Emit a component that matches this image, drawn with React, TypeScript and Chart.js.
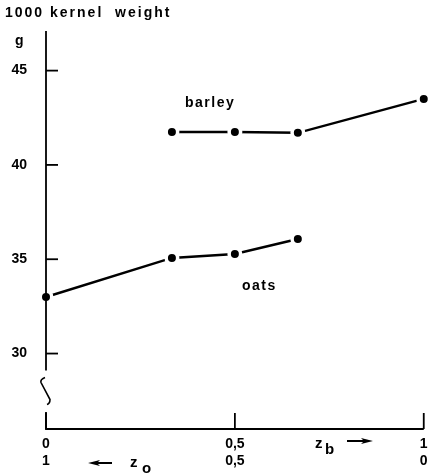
import React, { useEffect, useRef } from 'react';
import { Chart, registerables } from 'chart.js';

Chart.register(...registerables);

// z_b share (x), barley and oats 1000 kernel weight (g)
const barleyX = [1 / 3, 0.5, 2 / 3, 1];
const barleyY = [41.75, 41.75, 41.7, 43.5];
const oatsX = [0, 1 / 3, 0.5, 2 / 3];
const oatsY = [33.0, 35.07, 35.28, 36.07];
const yTicks = [30, 35, 40, 45];
const xTicks = [0, 0.5, 1];
const xTopLabels = ['0', '0,5', '1'];
const xBottomLabels = ['1', '0,5', '0'];

const FONT = 'Liberation Sans';

function drawArrow(ctx: CanvasRenderingContext2D, xa: number, xb: number, y: number, dir: number) {
  ctx.save();
  ctx.lineWidth = 2;
  ctx.beginPath();
  ctx.moveTo(xa, y);
  ctx.lineTo(xb - dir * 6, y);
  ctx.stroke();
  ctx.beginPath();
  ctx.moveTo(xb, y);
  ctx.lineTo(xb - dir * 12, y - 3);
  ctx.lineTo(xb - dir * 9, y);
  ctx.lineTo(xb - dir * 12, y + 3);
  ctx.closePath();
  ctx.fill();
  ctx.restore();
}

const axesPlugin = {
  id: 'axesPlugin',
  afterDraw(chart: any) {
    const { ctx, chartArea } = chart;
    const xs = chart.scales.x;
    const ys = chart.scales.y;
    const x0 = xs.getPixelForValue(0);
    const x1 = xs.getPixelForValue(1);
    const bottom = chartArea.bottom;
    ctx.save();
    ctx.strokeStyle = '#000';
    ctx.fillStyle = '#000';
    ctx.lineWidth = 1.8;
    ctx.lineCap = 'butt';
    // y axis with break
    const breakTop = ys.getPixelForValue(29.1);
    const breakBottom = ys.getPixelForValue(26.9);
    ctx.beginPath();
    ctx.moveTo(x0, chartArea.top);
    ctx.lineTo(x0, breakTop);
    ctx.stroke();
    ctx.beginPath();
    ctx.lineWidth = 1.6;
    ctx.moveTo(x0 - 1, breakTop + 7);
    ctx.quadraticCurveTo(x0 - 6, breakTop + 9, x0 - 5, breakTop + 12);
    ctx.lineTo(x0 + 4, breakTop + 29);
    ctx.quadraticCurveTo(x0 + 4, breakTop + 33, x0 + 1, breakTop + 34);
    ctx.stroke();
    ctx.lineWidth = 1.8;
    ctx.beginPath();
    ctx.moveTo(x0, breakBottom);
    ctx.lineTo(x0, bottom);
    ctx.lineTo(x1, bottom);
    ctx.stroke();
    // y ticks (inward)
    yTicks.forEach((v) => {
      const y = ys.getPixelForValue(v);
      ctx.beginPath();
      ctx.moveTo(x0, y);
      ctx.lineTo(x0 + 12, y);
      ctx.stroke();
    });
    // x ticks (upward)
    xTicks.forEach((v) => {
      const x = xs.getPixelForValue(v);
      ctx.beginPath();
      ctx.moveTo(x, bottom);
      ctx.lineTo(x, bottom - 16);
      ctx.stroke();
    });

    // texts
    ctx.textBaseline = 'alphabetic';
    ctx.textAlign = 'left';
    ctx.font = `bold 14px "${FONT}"`;
    (ctx as any).letterSpacing = '2px';
    ctx.fillText('1000 kernel  weight', 5, 17);
    (ctx as any).letterSpacing = '0px';
    ctx.fillText('g', 15, 45);
    (ctx as any).letterSpacing = '1.5px';
    ctx.fillText('barley', 185, 107);
    ctx.fillText('oats', 242, 290);
    (ctx as any).letterSpacing = '0px';

    // z_b ->
    ctx.font = `bold 15px "${FONT}"`;
    ctx.fillText('z', 315, 448);
    ctx.fillText('b', 325, 454);
    drawArrow(ctx, 347, 373, 441, 1);
    // <- z_o
    ctx.fillText('z', 130, 467);
    ctx.fillText('o', 142, 473);
    drawArrow(ctx, 112, 88, 463, -1);
    ctx.restore();
  },
};

export default function App() {
  const ref = useRef<HTMLCanvasElement | null>(null);
  useEffect(() => {
    if (!ref.current) return;
    Chart.defaults.color = '#000';
    const mk = (xv: number[], yv: number[]) => xv.map((x, i) => ({ x, y: yv[i] }));
    const dsStyle = {
      borderColor: '#000',
      borderWidth: 2.5,
      pointRadius: 5.75,
      pointBorderWidth: 3.5,
      pointBackgroundColor: '#000',
      pointBorderColor: '#fff',
      showLine: true,
      clip: false as any,
      tension: 0,
    };
    const chart = new Chart(ref.current, {
      type: 'line',
      data: {
        datasets: [
          { label: 'barley', data: mk(barleyX, barleyY), ...dsStyle },
          { label: 'oats', data: mk(oatsX, oatsY), ...dsStyle },
        ],
      },
      options: {
        responsive: false,
        animation: false,
        devicePixelRatio: 1,
        layout: { padding: { top: 31, right: 8, left: 0, bottom: 0 } },
        plugins: { legend: { display: false }, tooltip: { enabled: false }, title: { display: false } },
        scales: {
          x: {
            type: 'linear',
            min: 0,
            max: 1,
            grid: { display: false, drawTicks: false },
            border: { display: false },
            afterBuildTicks: (s: any) => {
              s.ticks = xTicks.map((v) => ({ value: v }));
            },
            afterFit: (s: any) => {
              s.height = 45;
              s.paddingRight = 0;
              s.paddingLeft = 0;
            },
            ticks: {
              padding: 6,
              maxRotation: 0,
              autoSkip: false,
              font: { family: FONT, weight: 'bold', size: 14, lineHeight: 1.25 },
              color: '#000',
              callback: (_v: any, i: number) => [xTopLabels[i], xBottomLabels[i]],
            },
          },
          y: {
            type: 'linear',
            min: 26,
            max: 47.1,
            grid: { display: false, drawTicks: false },
            border: { display: false },
            afterBuildTicks: (s: any) => {
              s.ticks = yTicks.map((v) => ({ value: v }));
            },
            afterFit: (s: any) => {
              s.width = 46;
            },
            ticks: {
              padding: 19,
              font: { family: FONT, weight: 'bold', size: 14 },
              color: '#000',
              callback: (v: any) => String(v),
            },
          },
        },
      },
      plugins: [axesPlugin],
    });
    return () => chart.destroy();
  }, []);
  return (
    <div style={{ position: 'fixed', left: 0, top: 0, width: 433, height: 474, background: '#fff' }}>
      <canvas ref={ref} width={433} height={474} style={{ width: 433, height: 474, display: 'block' }} />
    </div>
  );
}
